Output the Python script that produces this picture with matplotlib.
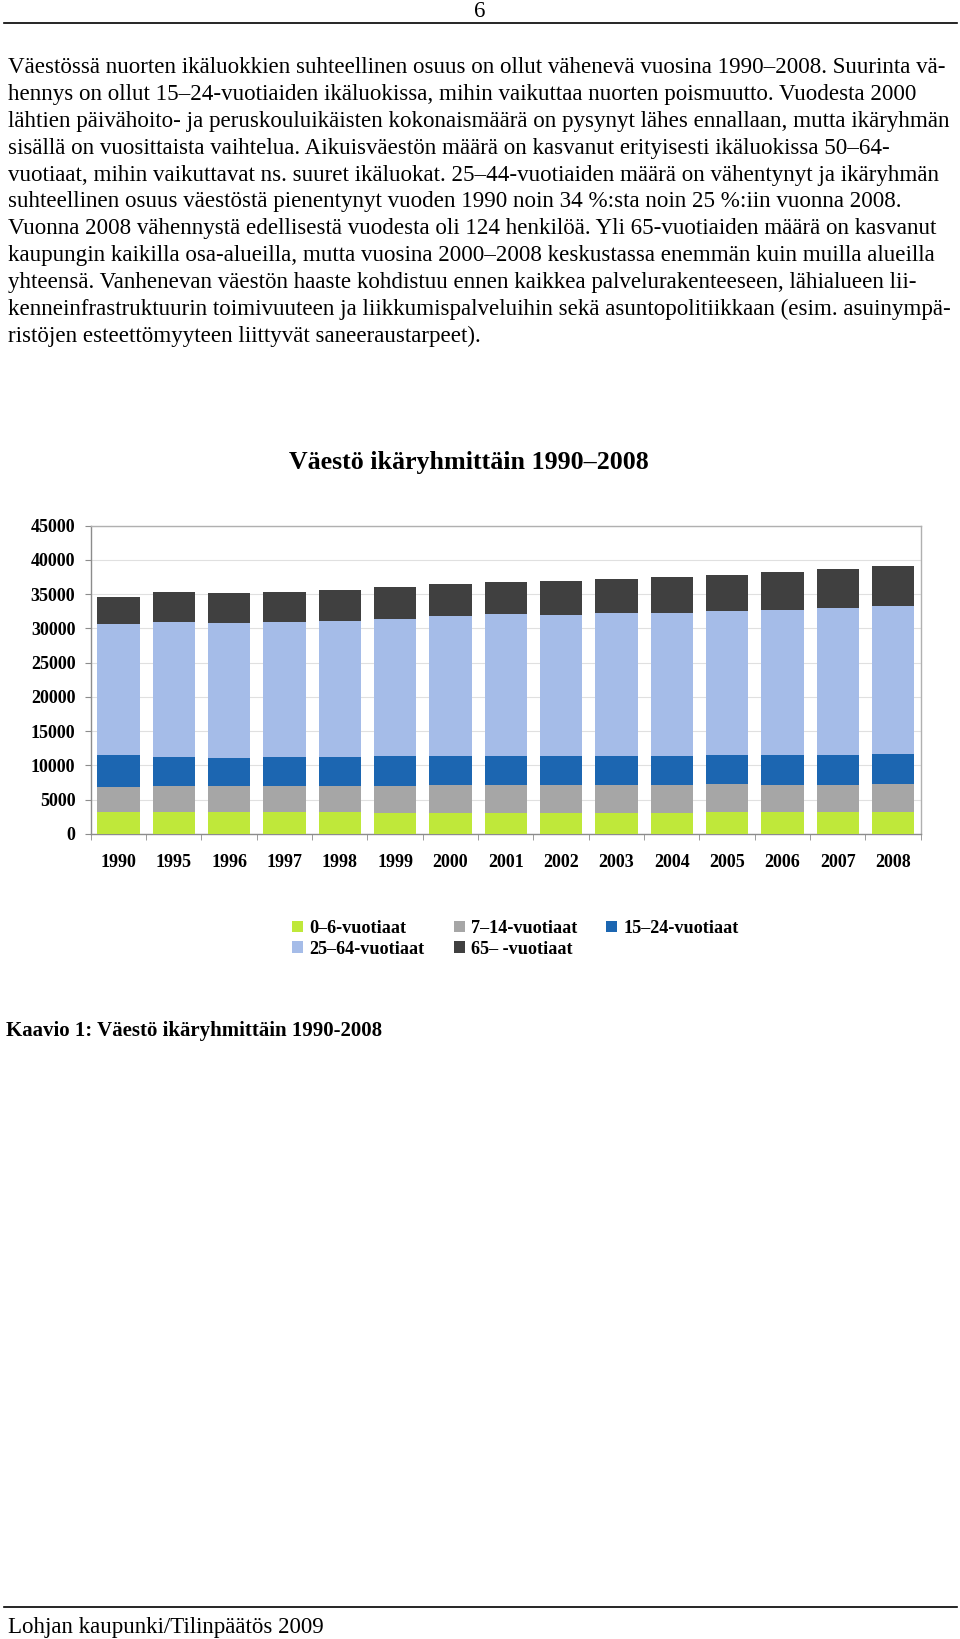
import numpy as np
import matplotlib
matplotlib.use('Agg')
import matplotlib.pyplot as plt
from matplotlib.lines import Line2D

# Page size in pixels (dpi 100)
W, H = 960, 1639

# Chart data
years = ['1990', '1995', '1996', '1997', '1998', '1999', '2000', '2001',
         '2002', '2003', '2004', '2005', '2006', '2007', '2008']
age_0_6 = [3160, 3260, 3260, 3210, 3160, 3110, 3110, 3110, 3110, 3110, 3020, 3160, 3210, 3210, 3210]
age_7_14 = [3750, 3740, 3700, 3750, 3800, 3940, 4040, 4040, 4040, 4040, 4130, 4090, 3940, 3940, 4040]
age_15_24 = [4670, 4290, 4180, 4230, 4230, 4280, 4280, 4230, 4180, 4180, 4230, 4230, 4330, 4330, 4380]
age_25_64 = [19070, 19700, 19700, 19800, 19940, 20100, 20390, 20680, 20680, 20920, 20920, 21110, 21260, 21500, 21650]
age_65 = [3890, 4280, 4330, 4380, 4430, 4570, 4620, 4670, 4860, 4970, 5160, 5260, 5550, 5700, 5830]

series_labels = ['0–6-vuotiaat', '7–14-vuotiaat', '15–24-vuotiaat', '25–64-vuotiaat', '65– -vuotiaat']
series_colors = ['#bfe83a', '#a6a6a6', '#1c66b1', '#a5bce8', '#404040']

body_lines = [
    'Väestössä nuorten ikäluokkien suhteellinen osuus on ollut vähenevä vuosina 1990–2008. Suurinta vä-',
    'hennys on ollut 15–24-vuotiaiden ikäluokissa, mihin vaikuttaa nuorten poismuutto. Vuodesta 2000',
    'lähtien päivähoito- ja peruskouluikäisten kokonaismäärä on pysynyt lähes ennallaan, mutta ikäryhmän',
    'sisällä on vuosittaista vaihtelua. Aikuisväestön määrä on kasvanut erityisesti ikäluokissa 50–64-',
    'vuotiaat, mihin vaikuttavat ns. suuret ikäluokat. 25–44-vuotiaiden määrä on vähentynyt ja ikäryhmän',
    'suhteellinen osuus väestöstä pienentynyt vuoden 1990 noin 34 %:sta noin 25 %:iin vuonna 2008.',
    'Vuonna 2008 vähennystä edellisestä vuodesta oli 124 henkilöä. Yli 65-vuotiaiden määrä on kasvanut',
    'kaupungin kaikilla osa-alueilla, mutta vuosina 2000–2008 keskustassa enemmän kuin muilla alueilla',
    'yhteensä. Vanhenevan väestön haaste kohdistuu ennen kaikkea palvelurakenteeseen, lähialueen lii-',
    'kenneinfrastruktuurin toimivuuteen ja liikkumispalveluihin sekä asuntopolitiikkaan (esim. asuinympä-',
    'ristöjen esteettömyyteen liittyvät saneeraustarpeet).',
]

plt.rcParams['font.family'] = ['Liberation Serif', 'DejaVu Serif']


def fx(x):
    return x / W


def fy(y):
    return 1 - y / H


fig = plt.figure(figsize=(W / 100, H / 100), dpi=100)
fig.patch.set_facecolor('white')

# header / footer
fig.text(fx(480), fy(17), '6', ha='center', va='baseline', fontsize=16.5)
fig.add_artist(Line2D([fx(4), fx(957)], [fy(23), fy(23)], color='black', lw=1.2))
fig.add_artist(Line2D([fx(4), fx(957)], [fy(1607), fy(1607)], color='black', lw=1.2))
fig.text(fx(8), fy(1633), 'Lohjan kaupunki/Tilinpäätös 2009', ha='left', va='baseline', fontsize=16.5)

# body text
for i, line in enumerate(body_lines):
    fig.text(fx(8), fy(73 + 26.9 * i), line, ha='left', va='baseline', fontsize=16.6)

# chart title and caption
fig.text(fx(469), fy(469), 'Väestö ikäryhmittäin 1990–2008', ha='center', va='baseline',
         fontsize=18.7, fontweight='bold')
fig.text(fx(6), fy(1036), 'Kaavio 1: Väestö ikäryhmittäin 1990-2008', ha='left', va='baseline',
         fontsize=15, fontweight='bold')

# chart
ax = fig.add_axes([fx(90.7), fy(834), (920.7 - 90.7) / W, (834 - 525.7) / H])
x = np.arange(len(years))
series = [age_0_6, age_7_14, age_15_24, age_25_64, age_65]
bottom = np.zeros(len(years))
handles = []
for vals, lab, col in zip(series, series_labels, series_colors):
    b = ax.bar(x, vals, bottom=bottom, width=0.765, color=col, label=lab, zorder=3)
    handles.append(b)
    bottom += np.array(vals)

ax.set_xlim(-0.5, len(years) - 0.5)
ax.set_ylim(0, 45000)
ax.set_yticks(np.arange(0, 45001, 5000))
ax.set_xticks(x)
ax.set_xticklabels(years)
ax.set_xticks(np.arange(-0.5, len(years), 1.0), minor=True)
ax.tick_params(axis='x', which='major', length=0, pad=14.5, labelsize=13)
ax.tick_params(axis='x', which='minor', length=4, color='#8c8c8c', direction='out')
ax.tick_params(axis='y', length=4, color='#8c8c8c', pad=7, labelsize=13)
for lbl in ax.get_xticklabels() + ax.get_yticklabels():
    lbl.set_fontweight('bold')
ax.grid(axis='y', color='#e0e0e0', lw=0.8, zorder=0)
ax.set_axisbelow(True)
for s in ax.spines.values():
    s.set_color('#8c8c8c')
    s.set_linewidth(1.0)
ax.spines['top'].set_color('#b0b0b0')
ax.spines['right'].set_color('#b0b0b0')

# legend, row-major order in 3 columns
order = [0, 3, 1, 4, 2]
fig.legend([handles[i] for i in order], [series_labels[i] for i in order],
           loc='upper left', bbox_to_anchor=(fx(292), fy(920)), ncol=3, frameon=False,
           handlelength=0.6, handleheight=0.6, handletextpad=0.35, columnspacing=1.6,
           labelspacing=0.2, borderaxespad=0, borderpad=0,
           prop={'weight': 'bold', 'size': 13.1})

fig.savefig('out.png', dpi=100, facecolor='white')
